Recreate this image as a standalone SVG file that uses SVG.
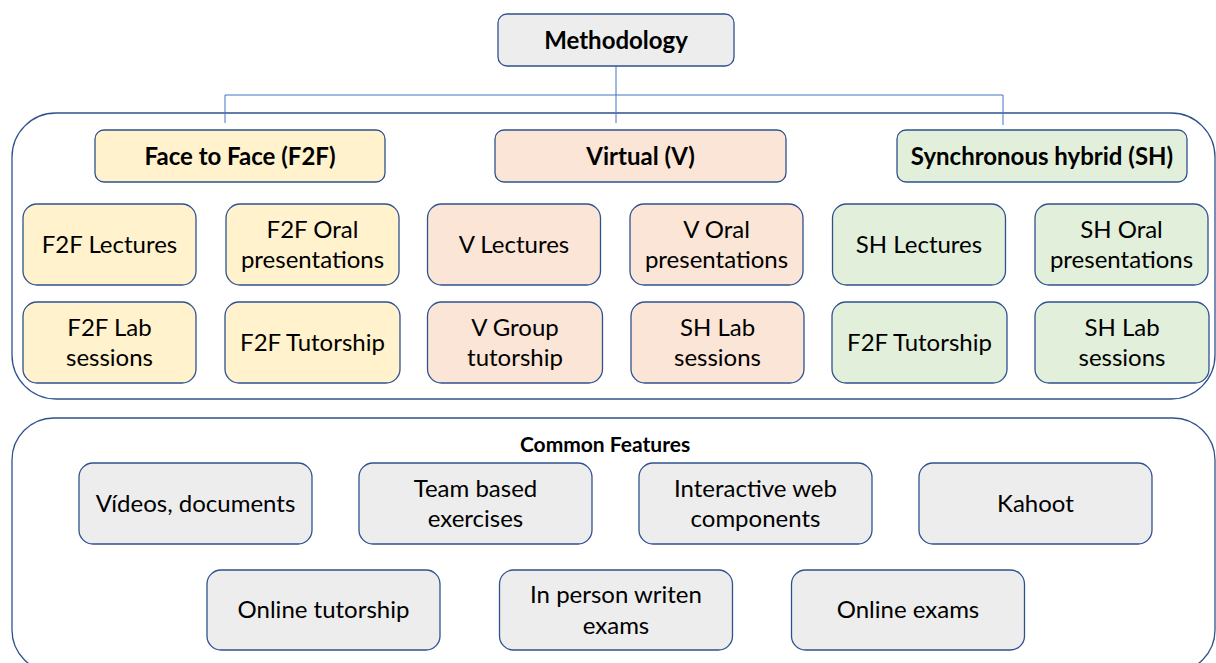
<svg xmlns="http://www.w3.org/2000/svg" width="1216" height="663" viewBox="0 0 1216 663">
<style>
.box{stroke:#2F528F;stroke-width:1.3}
.f2f{fill:#FFF2CC}
.v{fill:#FBE5D6}
.sh{fill:#E2EFDA}
.g{fill:#EDEDED}
.cont{fill:none;stroke:#2F528F;stroke-width:1.3}
.t{font-family:Lato,"Liberation Sans",sans-serif;font-size:24px;fill:#000;text-anchor:middle}
.b{font-family:Lato,"Liberation Sans",sans-serif;font-size:24px;font-weight:bold;fill:#000;text-anchor:middle}
.s{font-family:Lato,"Liberation Sans",sans-serif;font-size:21px;font-weight:bold;fill:#000;text-anchor:middle}
.c{fill:none;stroke:#4472C4;stroke-width:1}
</style>
<rect width="1216" height="663" fill="#fff"/>
<g id="containers">
<rect id="modes-container" class="cont" x="12" y="113" width="1203" height="286" rx="44"/>
<rect id="common-container" class="cont" x="12" y="418" width="1203" height="254" rx="42"/>
<text class="s" x="605" y="452">Common Features</text>
</g>
<g id="connectors">
<line class="c" x1="616" y1="66" x2="616" y2="123"/>
<line class="c" x1="225" y1="95" x2="1003" y2="95"/>
<line class="c" x1="225" y1="95" x2="225" y2="123"/>
<line class="c" x1="1003" y1="95" x2="1003" y2="125"/>
</g>
<g id="methodology"><rect class="box g" x="498" y="14" width="236" height="52" rx="9"/><text class="b" x="616" y="49">Methodology</text></g>
<g id="f2f"><rect class="box f2f" x="95" y="130" width="290" height="52" rx="9"/><text class="b" x="240" y="165">Face to Face (F2F)</text></g>
<g id="virtual"><rect class="box v" x="495" y="130" width="291" height="52" rx="9"/><text class="b" x="640.5" y="165">Virtual (V)</text></g>
<g id="sh"><rect class="box sh" x="897" y="130" width="290" height="52" rx="9"/><text class="b" x="1042" y="165">Synchronous hybrid (SH)</text></g>

<g id="f2f-lectures"><rect class="box f2f" x="23" y="204" width="173" height="81" rx="14"/><text class="t" x="109.5" y="253">F2F Lectures</text></g>
<g id="f2f-oral"><rect class="box f2f" x="226" y="204" width="173" height="81" rx="14"/><text class="t" x="312.5" y="238">F2F Oral</text><text class="t" x="312.5" y="268">presentations</text></g>
<g id="f2f-lab"><rect class="box f2f" x="23" y="302" width="173" height="81" rx="14"/><text class="t" x="109.5" y="336">F2F Lab</text><text class="t" x="109.5" y="366">sessions</text></g>
<g id="f2f-tutorship"><rect class="box f2f" x="225" y="302" width="175" height="81" rx="14"/><text class="t" x="312.5" y="351">F2F Tutorship</text></g>

<g id="v-lectures"><rect class="box v" x="427.5" y="204" width="173" height="81" rx="14"/><text class="t" x="514" y="253">V Lectures</text></g>
<g id="v-oral"><rect class="box v" x="630" y="204" width="173" height="81" rx="14"/><text class="t" x="716.5" y="238">V Oral</text><text class="t" x="716.5" y="268">presentations</text></g>
<g id="v-group"><rect class="box v" x="427.5" y="302" width="175" height="81" rx="14"/><text class="t" x="515" y="336">V Group</text><text class="t" x="515" y="366">tutorship</text></g>
<g id="v-shlab"><rect class="box v" x="631" y="302" width="173" height="81" rx="14"/><text class="t" x="717.5" y="336">SH Lab</text><text class="t" x="717.5" y="366">sessions</text></g>

<g id="sh-lectures"><rect class="box sh" x="832.5" y="204" width="173" height="81" rx="14"/><text class="t" x="919" y="253">SH Lectures</text></g>
<g id="sh-oral"><rect class="box sh" x="1035" y="204" width="173" height="81" rx="14"/><text class="t" x="1121.5" y="238">SH Oral</text><text class="t" x="1121.5" y="268">presentations</text></g>
<g id="sh-f2ftutorship"><rect class="box sh" x="832" y="302" width="175" height="81" rx="14"/><text class="t" x="919.5" y="351">F2F Tutorship</text></g>
<g id="sh-lab"><rect class="box sh" x="1035" y="302" width="174" height="81" rx="14"/><text class="t" x="1122" y="336">SH Lab</text><text class="t" x="1122" y="366">sessions</text></g>

<g id="videos"><rect class="box g" x="79" y="463" width="233" height="81" rx="14"/><text class="t" x="195.5" y="512">Vídeos, documents</text></g>
<g id="team"><rect class="box g" x="359" y="463" width="233" height="81" rx="14"/><text class="t" x="475.5" y="497">Team based</text><text class="t" x="475.5" y="527">exercises</text></g>
<g id="interactive"><rect class="box g" x="639" y="463" width="233" height="81" rx="14"/><text class="t" x="755.5" y="497">Interactive web</text><text class="t" x="755.5" y="527">components</text></g>
<g id="kahoot"><rect class="box g" x="919" y="463" width="233" height="81" rx="14"/><text class="t" x="1035.5" y="512">Kahoot</text></g>
<g id="online-tutorship"><rect class="box g" x="207" y="570" width="233" height="80" rx="14"/><text class="t" x="323.5" y="618">Online tutorship</text></g>
<g id="in-person"><rect class="box g" x="499.5" y="570" width="233" height="80" rx="14"/><text class="t" x="616" y="603">In person writen</text><text class="t" x="616" y="634">exams</text></g>
<g id="online-exams"><rect class="box g" x="791.5" y="570" width="233" height="80" rx="14"/><text class="t" x="908" y="618">Online exams</text></g>
</svg>
